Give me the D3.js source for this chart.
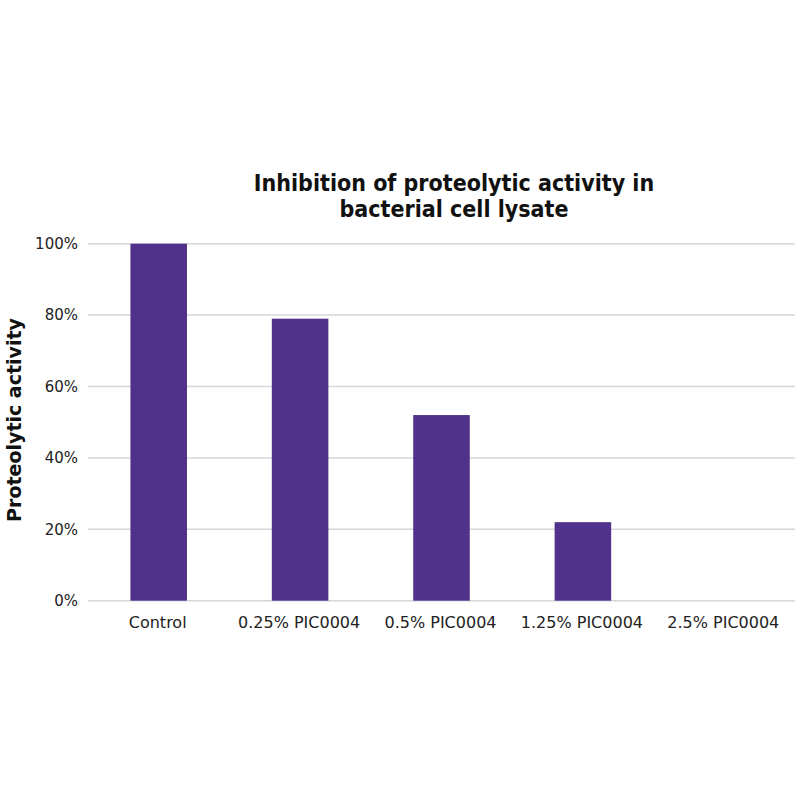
<!DOCTYPE html>
<html>
<head>
<meta charset="utf-8">
<script src="https://cdn.jsdelivr.net/npm/d3@7"></script>
<style>
  body { margin: 0; background: #fff; }
  svg { display: block; }
</style>
</head>
<body>
<svg id="chart"></svg>
<script>
// данные графика
const categories = ["Control", "0.25% PIC0004", "0.5% PIC0004", "1.25% PIC0004", "2.5% PIC0004"];
const activity = [100, 79, 52, 22, 0];
const yTicks = [0, 20, 40, 60, 80, 100];
const titleLines = ["Inhibition of proteolytic activity in", "bacterial cell lysate"];
const yTitle = "Proteolytic activity";

const width = 800, height = 800;
const margin = { left: 88, right: 5, top: 243.7, bottom: 199.3 };

const svg = d3.select("#chart")
    .attr("width", width)
    .attr("height", height);

const x = d3.scaleBand()
    .domain(categories)
    .range([margin.left, width - margin.right])
    .paddingInner(0.6)
    .paddingOuter(0.3);

const y = d3.scaleLinear()
    .domain([0, 100])
    .range([height - margin.bottom, margin.top]);

// сетка
svg.append("g")
    .selectAll("line")
    .data(yTicks)
    .join("line")
    .attr("x1", margin.left)
    .attr("x2", width - margin.right)
    .attr("y1", d => y(d))
    .attr("y2", d => y(d))
    .attr("stroke", "#d6d6db")
    .attr("stroke-width", 1.5);

// подписи оси Y
svg.append("g")
    .selectAll("text")
    .data(yTicks)
    .join("text")
    .attr("x", 78)
    .attr("y", d => y(d))
    .attr("dy", "0.35em")
    .attr("text-anchor", "end")
    .attr("font-family", "DejaVu Sans, Verdana, sans-serif")
    .attr("font-size", 15)
    .attr("fill", "#222")
    .text(d => d + "%");

// столбцы
svg.append("g")
    .selectAll("rect")
    .data(activity)
    .join("rect")
    .attr("x", (d, i) => x(categories[i]))
    .attr("y", d => y(d))
    .attr("width", x.bandwidth())
    .attr("height", d => y(0) - y(d))
    .attr("fill", "#50328c");

// подписи категорий
svg.append("g")
    .selectAll("text")
    .data(categories)
    .join("text")
    .attr("x", d => x(d) + x.bandwidth() / 2 - 1)
    .attr("y", 628)
    .attr("text-anchor", "middle")
    .attr("font-family", "DejaVu Sans, Verdana, sans-serif")
    .attr("font-size", 16)
    .attr("fill", "#222")
    .text(d => d);

// заголовок
svg.append("text")
    .attr("x", 454)
    .attr("y", 191)
    .attr("text-anchor", "middle")
    .attr("font-family", "DejaVu Sans Condensed, DejaVu Sans, sans-serif")
    .attr("font-stretch", "condensed")
    .attr("font-weight", "bold")
    .attr("font-size", 23)
    .attr("fill", "#111")
    .selectAll("tspan")
    .data(titleLines)
    .join("tspan")
    .attr("x", 454)
    .attr("dy", (d, i) => i === 0 ? 0 : 26)
    .text(d => d);

// название оси Y
svg.append("text")
    .attr("transform", "translate(21, 420) rotate(-90)")
    .attr("text-anchor", "middle")
    .attr("font-family", "DejaVu Sans, Verdana, sans-serif")
    .attr("font-weight", "bold")
    .attr("font-size", 19)
    .attr("fill", "#111")
    .text(yTitle);
</script>
</body>
</html>
